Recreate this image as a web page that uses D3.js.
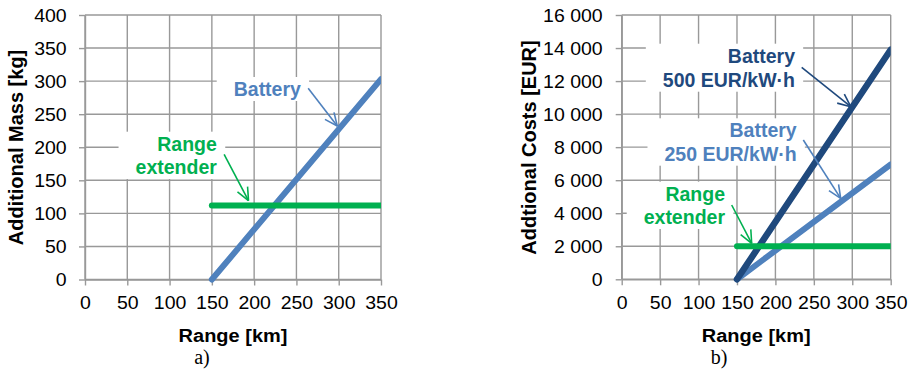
<!DOCTYPE html>
<html>
<head>
<meta charset="utf-8">
<script src="https://cdn.jsdelivr.net/npm/d3@7"></script>
<style>
  html, body { margin: 0; padding: 0; background: #fff; }
  svg { display: block; }
  text { font-family: "Liberation Sans", Arial, sans-serif; }
</style>
</head>
<body>
<svg id="chart" width="910" height="372"></svg>
<script>
// ---------------- DATA ----------------
const rangeTicks = [0, 50, 100, 150, 200, 250, 300, 350];
const massTicks = [0, 50, 100, 150, 200, 250, 300, 350, 400];
const costTicks = [0, 2000, 4000, 6000, 8000, 10000, 12000, 14000, 16000];

const rangeKm = [150, 350];
const batteryMass = [0, 303];
const rangeExtenderMass = [112, 112];
const batteryCost500 = [0, 13900];
const batteryCost250 = [0, 6950];
const rangeExtenderCost = [2000, 2000];

const massAnnotations = [
  { lines: ["Battery"], color: "#4F81BD", x: 255.3, y: [277.5], from: [263.9, 289.2], to: [298.3, 232.1] },
  { lines: ["Range", "extender"], color: "#00B050", x: 155.9, y: [194.8, 159.5], from: [164.5, 189.3], to: [193.3, 119.3] }
];
const costAnnotations = [
  { lines: ["Battery", "500 EUR/kW·h"], color: "#1F497D", x: 225.5, y: [13112, 11659], from: [234.2, 12834], to: [298, 10449] },
  { lines: ["Battery", "250 EUR/kW·h"], color: "#4F81BD", x: 227.7, y: [8596, 7180], from: [236.3, 8433], to: [284.9, 4903] },
  { lines: ["Range", "extender"], color: "#00B050", x: 134.4, y: [4758, 3348], from: [143.1, 4498], to: [169.1, 2179] }
];

// ---------------- RENDER ----------------
const svg = d3.select("#chart");
const spaceFmt = d3.formatLocale({ decimal: ".", thousands: " ", grouping: [3], currency: ["", ""] }).format(",");
const GRID = "#999999";

function panel(cfg) {
  const x = d3.scaleLinear().domain([0, 350]).range([cfg.x0, cfg.x1]);
  const y = d3.scaleLinear().domain(cfg.yDomain).range([cfg.y1, cfg.y0]);
  const g = svg.append("g");
  const clipId = "clip" + cfg.id;
  svg.append("defs").append("clipPath").attr("id", clipId)
    .append("rect").attr("x", cfg.x0 - 10).attr("y", cfg.y0 - 10)
    .attr("width", cfg.x1 - cfg.x0 + 10).attr("height", cfg.y1 - cfg.y0 + 20);

  // grid
  g.append("g").selectAll("line").data(cfg.yTicks).join("line")
    .attr("x1", cfg.x0).attr("x2", cfg.x1)
    .attr("y1", d => y(d)).attr("y2", d => y(d))
    .attr("stroke", GRID).attr("stroke-width", 1.4);
  g.append("g").selectAll("line").data(rangeTicks).join("line")
    .attr("x1", d => x(d)).attr("x2", d => x(d))
    .attr("y1", cfg.y0).attr("y2", cfg.y1)
    .attr("stroke", GRID).attr("stroke-width", 1.4);

  // axes
  const ya = g.append("g").attr("transform", `translate(${cfg.x0},0)`)
    .call(d3.axisLeft(y).tickValues(cfg.yTicks).tickSize(6).tickSizeOuter(0).tickFormat(cfg.fmt));
  const xa = g.append("g").attr("transform", `translate(0,${cfg.y1})`)
    .call(d3.axisBottom(x).tickValues(rangeTicks).tickSize(6).tickSizeOuter(0));
  [ya, xa].forEach(a => {
    a.select(".domain").attr("stroke", GRID).attr("stroke-width", 1.4);
    a.selectAll(".tick line").attr("stroke", GRID).attr("stroke-width", 1.4);
    a.selectAll("text").attr("font-family", "Liberation Sans, Arial, sans-serif")
      .attr("font-size", 19.5).attr("fill", "#000");
  });
  ya.selectAll("text").attr("x", -cfg.yLabelGap).attr("dy", null).attr("y", 0)
    .attr("transform", "scale(1,0.9) translate(0,7)");
  xa.selectAll("text").attr("dy", null).attr("y", 30 / 0.9)
    .attr("transform", "scale(1,0.9)");

  // white boxes behind annotations (computed after text placed)
  const boxG = g.append("g");
  const lineG = g.append("g").attr("clip-path", `url(#${clipId})`);
  cfg.series.forEach(s => {
    const pts = rangeKm.map((r, i) => [x(r), y(s.values[i])]);
    lineG.append("path").attr("d", d3.line()(pts))
      .attr("fill", "none").attr("stroke", s.color).attr("stroke-width", s.width)
      .attr("stroke-linecap", "round");
  });

  const annG = g.append("g");
  cfg.annotations.forEach(a => {
    const tg = annG.append("g");
    a.lines.forEach((t, i) => {
      tg.append("text").attr("x", x(a.x)).attr("y", y(a.y[i]))
        .attr("text-anchor", "end").attr("font-weight", "bold").attr("font-size", 19.5)
        .attr("fill", a.color).text(t);
    });
    const bb = tg.node().getBBox();
    boxG.append("rect").attr("x", bb.x - 17).attr("y", bb.y - 1)
      .attr("width", bb.width + 25).attr("height", bb.height + 2).attr("fill", "#fff");
    // arrow
    const [fx, fy] = [x(a.from[0]), y(a.from[1])];
    const [tx, ty] = [x(a.to[0]), y(a.to[1])];
    annG.append("line").attr("x1", fx).attr("y1", fy).attr("x2", tx).attr("y2", ty)
      .attr("stroke", a.color).attr("stroke-width", 1.6);
    const ang = Math.atan2(ty - fy, tx - fx);
    const L = 14, sp = 0.42;
    [ang + Math.PI - sp, ang + Math.PI + sp].forEach(t => {
      annG.append("line").attr("x1", tx).attr("y1", ty)
        .attr("x2", tx + L * Math.cos(t)).attr("y2", ty + L * Math.sin(t))
        .attr("stroke", a.color).attr("stroke-width", 1.6);
    });
  });

  // axis titles
  g.append("text").attr("transform", `translate(${(cfg.x0 + cfg.x1) / 2},341.5) scale(1,0.93)`)
    .attr("text-anchor", "middle").attr("font-weight", "bold").attr("font-size", 20)
    .text("Range [km]");
  g.append("text").attr("transform", `translate(${cfg.titleX},147.5) rotate(-90)`)
    .attr("text-anchor", "middle").attr("font-weight", "bold").attr("font-size", 20)
    .text(cfg.yTitle);
  g.append("text").attr("x", cfg.capX).attr("y", 363.5)
    .attr("text-anchor", "middle").attr("font-size", 20)
    .attr("font-family", "Liberation Serif, Times New Roman, serif")
    .style("font-family", "'Liberation Serif', 'Times New Roman', serif")
    .text(cfg.caption);
}

panel({
  id: "a", x0: 85, x1: 381, y0: 15, y1: 279.5, yDomain: [0, 400], yTicks: massTicks,
  fmt: d3.format("d"), yLabelGap: 18.3, yTitle: "Additional Mass [kg]", titleX: 22.7,
  capX: 202, caption: "a)",
  series: [
    { values: batteryMass, color: "#4F81BD", width: 6 },
    { values: rangeExtenderMass, color: "#00B050", width: 6 }
  ],
  annotations: massAnnotations
});

panel({
  id: "b", x0: 621.7, x1: 890.7, y0: 15, y1: 279.3, yDomain: [0, 16000], yTicks: costTicks,
  fmt: spaceFmt, yLabelGap: 19, yTitle: "Addtional Costs [EUR]", titleX: 536,
  capX: 719, caption: "b)",
  series: [
    { values: batteryCost250, color: "#4F81BD", width: 6 },
    { values: batteryCost500, color: "#1F497D", width: 6.5 },
    { values: rangeExtenderCost, color: "#00B050", width: 6 }
  ],
  annotations: costAnnotations
});
</script>
</body>
</html>
